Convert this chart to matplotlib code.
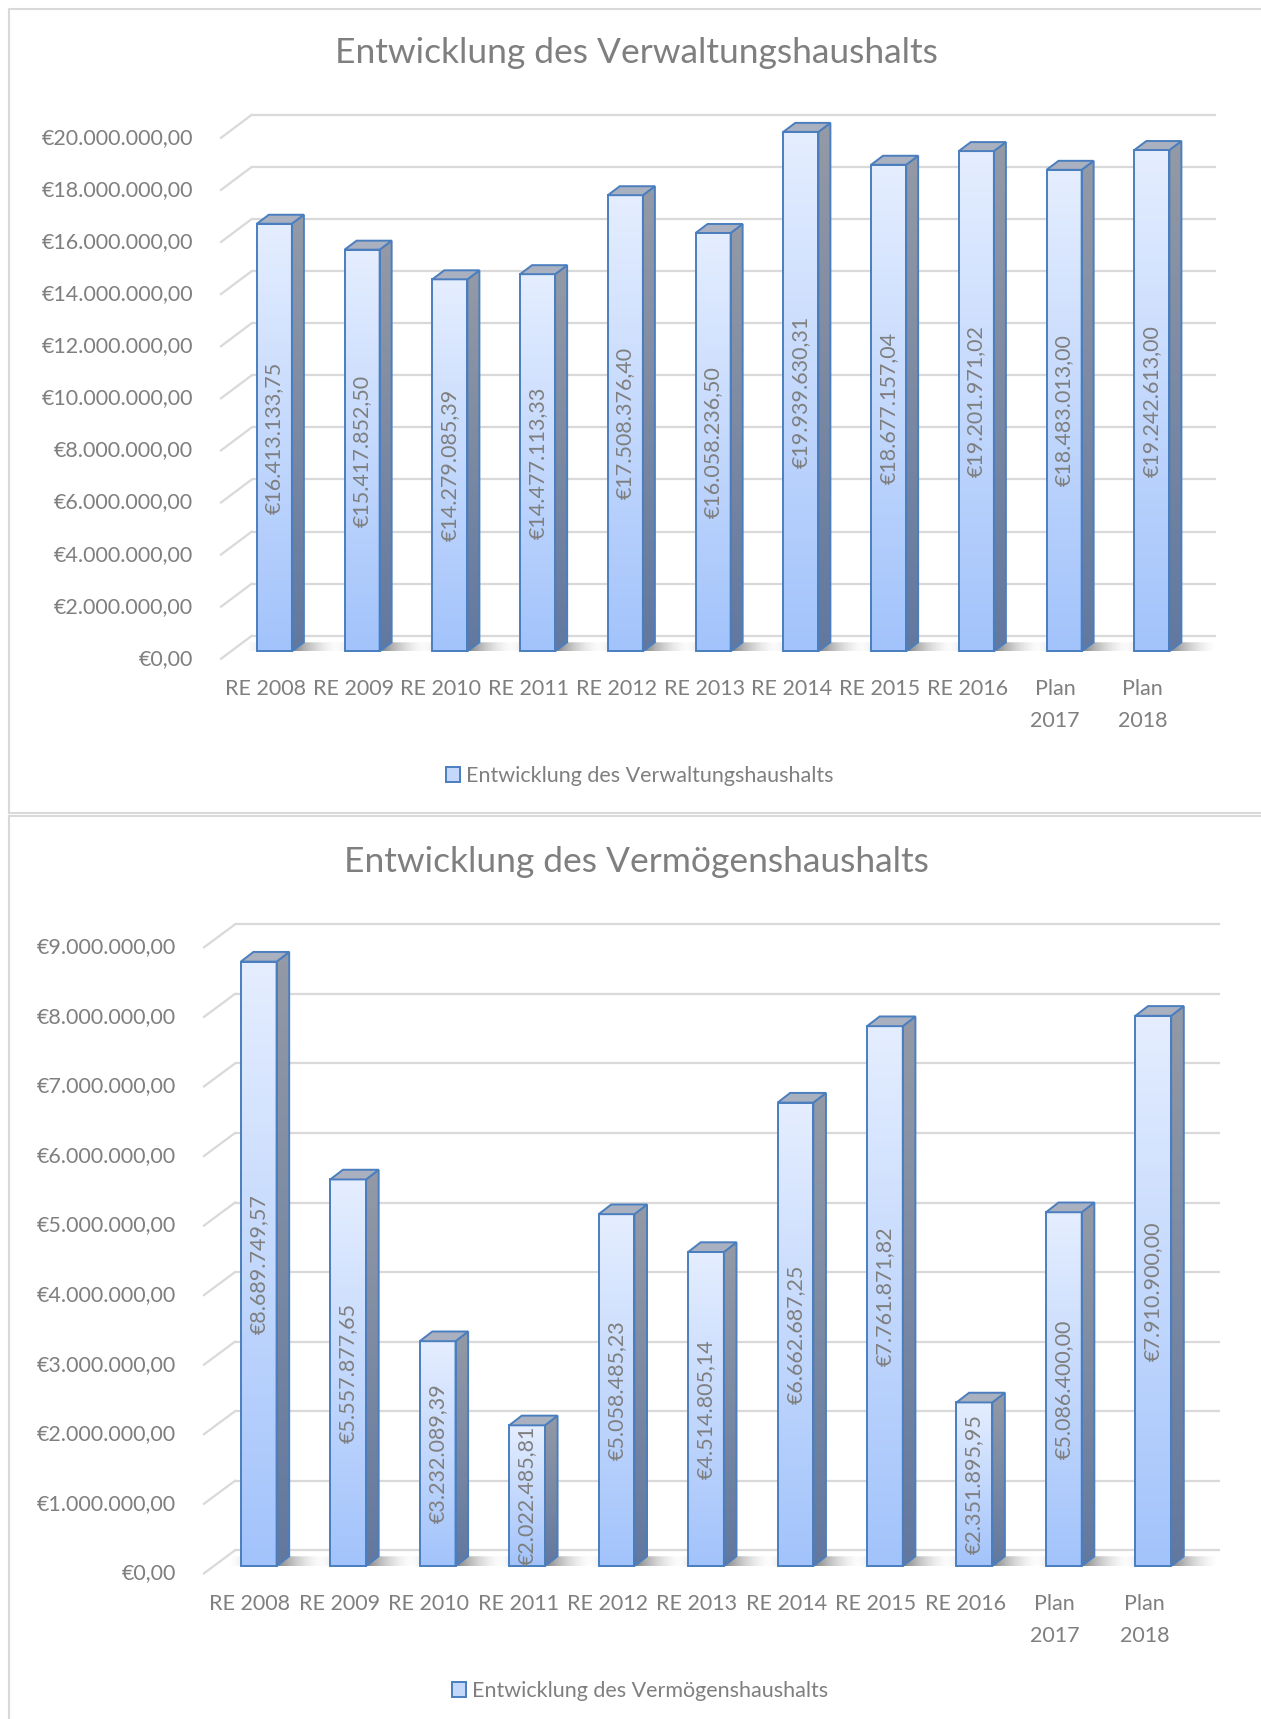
import numpy as np
import matplotlib.pyplot as plt
from matplotlib.transforms import ScaledTranslation
from matplotlib.patches import Polygon, Patch
from matplotlib.lines import Line2D
from matplotlib.colors import LinearSegmentedColormap

plt.rcParams['font.family'] = ['Lato', 'DejaVu Sans']

# data
categories = ["RE 2008", "RE 2009", "RE 2010", "RE 2011", "RE 2012", "RE 2013",
              "RE 2014", "RE 2015", "RE 2016", "Plan\n2017", "Plan\n2018"]
verwaltung = [16413133.75, 15417852.50, 14279085.39, 14477113.33, 17508376.40, 16058236.50,
              19939630.31, 18677157.04, 19201971.02, 18483013.00, 19242613.00]
vermoegen = [8689749.57, 5557877.65, 3232089.39, 2022485.81, 5058485.23, 4514805.14,
             6662687.25, 7761871.82, 2351895.95, 5086400.00, 7910900.00]
ticks_top = np.arange(0, 20_000_001, 2_000_000)
ticks_bottom = np.arange(0, 9_000_001, 1_000_000)

W, H, DPI = 1261, 1719, 100
TXT = '#7f7f7f'
GRID = '#d9d9d9'
EDGE = '#4a7ebf'
FS = 15.5

front_cmap = LinearSegmentedColormap.from_list('front', ['#a2c3fb', '#e5eeff'])
side_cmap = LinearSegmentedColormap.from_list('side', ['#62789f', '#949aa6'])

fig = plt.figure(figsize=(W / DPI, H / DPI), dpi=DPI)


def eur(v):
    s = f"{v:,.2f}".replace(",", "X").replace(".", ",").replace("X", ".")
    return "€" + s


def shift(ax, dx, dy):
    return ax.transData + ScaledTranslation(dx / DPI, dy / DPI, fig.dpi_scale_trans)


def chart(values, ticks, title, legend, g):
    ax = fig.add_axes([0, 0, 1, 1])
    ax.set_axis_off()
    step, unit = g['step'], g['unit']
    xlim = (-g['x0'] / step, (W - g['x0']) / step)
    ylim = ((g['zero'] - H) / unit, g['zero'] / unit)
    dx, dy = g['depth'][0] / step, g['depth'][1] / unit
    fx, fy = g['front'][0] / step, g['front'][1] / unit

    # back wall gridlines + diagonal to the front edge
    wall = shift(ax, 0, g['wall_up'])
    for t in ticks:
        ax.plot([g['wall'][0], g['wall'][1]], [t, t], transform=wall,
                color=GRID, lw=1.6, zorder=1, solid_capstyle='butt')
        ax.plot([g['wall'][0], g['wall'][0] + fx], [t, t + fy], transform=wall,
                color=GRID, lw=1.6, zorder=1)
        ax.text(g['wall'][0] + fx, t + fy, eur(t), transform=shift(ax, -28, g['wall_up']),
                ha='right', va='center', fontsize=FS, color=TXT)

    x = np.arange(len(values))
    bars = ax.bar(x, values, width=0.4, facecolor='none', edgecolor=EDGE, lw=1.4, zorder=5)
    grad = np.linspace(1, 0, 256).reshape(-1, 1)
    for rect in bars:
        bx, w, h = rect.get_x(), rect.get_width(), rect.get_height()
        # floor shadow
        sx = np.linspace(-1, 1, 200)
        alpha = np.clip(1 - np.abs(sx) * 1.1, 0, 1) ** 1.8 * 0.6
        rgba = np.zeros((2, 200, 4))
        rgba[..., :3] = 0.15
        rgba[..., 3] = alpha
        sx0, sx1 = bx - 20 / step, bx + w + 42 / step
        shp = Polygon([(sx0, 0), (sx0 + dx, dy), (sx1 + dx, dy), (sx1, 0)], closed=True,
                      fc='none', ec='none')
        ax.add_patch(shp)
        im = ax.imshow(rgba, extent=(sx0, sx1 + dx, 0, dy), aspect='auto', zorder=2)
        im.set_clip_path(shp)
        # front face gradient
        im = ax.imshow(grad, extent=(bx, bx + w, 0, h), aspect='auto', cmap=front_cmap,
                       vmin=0, vmax=1, zorder=4)
        im.set_clip_path(rect)
        # side face
        side = Polygon([(bx + w, 0), (bx + w + dx, dy), (bx + w + dx, h + dy), (bx + w, h)],
                       closed=True, fc='none', ec=EDGE, lw=1.4, zorder=5)
        ax.add_patch(side)
        im = ax.imshow(grad, extent=(bx + w, bx + w + dx, 0, h + dy), aspect='auto',
                       cmap=side_cmap, vmin=0, vmax=1, zorder=4)
        im.set_clip_path(side)
        # top face
        ax.add_patch(Polygon([(bx, h), (bx + dx, h + dy), (bx + w + dx, h + dy), (bx + w, h)],
                             closed=True, fc='#a9b0c0', ec=EDGE, lw=1.4, zorder=5))

    for i, v in enumerate(values):
        ax.text(i, v / 2, eur(v), rotation=90, ha='center', va='center',
                fontsize=FS, color=TXT, zorder=6)
    for i, c in enumerate(categories):
        ax.text(i, 0, c, transform=shift(ax, -9, -28), ha='center', va='top',
                fontsize=FS, color=TXT, linespacing=1.75)

    ax.set_xlim(*xlim)
    ax.set_ylim(*ylim)

    fig.text(636 / W, 1 - g['title_y'] / H, title, ha='center', va='center',
             fontsize=25.5, color=TXT)
    ax.legend(handles=[Patch(fc='#c4d8fb', ec=EDGE, lw=1.4, label=legend)],
              loc='center', bbox_to_anchor=(640 / W, 1 - g['legend_y'] / H),
              bbox_transform=fig.transFigure, frameon=False, fontsize=FS,
              labelcolor=TXT, handlelength=0.65, handleheight=0.65, handletextpad=0.3)


top_geo = dict(x0=274.35, step=87.75, zero=651.3, unit=26.05e-6, wall_up=15.5,
               wall=(-0.258, 10.73), front=(-30.7, -23), depth=(12, 9),
               title_y=53, legend_y=776)
bottom_geo = dict(x0=258.7, step=89.46, zero=1566, unit=69.55e-6, wall_up=15.7,
                  wall=(-0.265, 10.75), front=(-31, -23), depth=(12.6, 9.7),
                  title_y=862, legend_y=1691)

chart(verwaltung, ticks_top, "Entwicklung des Verwaltungshaushalts",
      "Entwicklung des Verwaltungshaushalts", top_geo)
chart(vermoegen, ticks_bottom, "Entwicklung des Vermögenshaushalts",
      "Entwicklung des Vermögenshaushalts", bottom_geo)

# chart area borders
for xs, ys in [([8.5, 8.5, W], [813, 9, 9]), ([8.5, W], [813, 813]),
               ([8.5, W], [816, 816]), ([8.5, 8.5], [816, H])]:
    fig.add_artist(Line2D([v / W for v in xs], [1 - v / H for v in ys],
                          transform=fig.transFigure, color=GRID, lw=1.5))

fig.savefig('out.png', dpi=DPI)
